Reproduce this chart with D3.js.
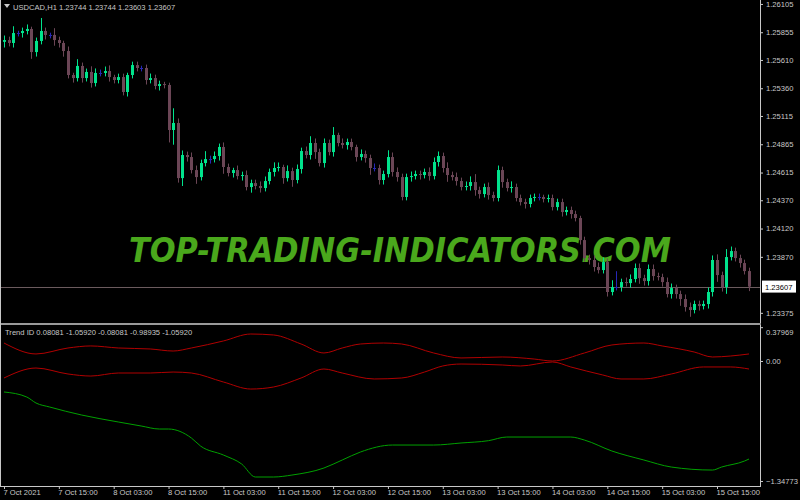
<!DOCTYPE html>
<html>
<head>
<meta charset="utf-8">
<script src="https://cdn.jsdelivr.net/npm/d3@7"></script>
<style>
  body { margin: 0; background: #000; }
  svg { display: block; }
  text { font-family: "Liberation Sans", Arial, sans-serif; font-size: 7.6px; }
</style>
</head>
<body>
<svg id="chart" width="800" height="500"></svg>
<script>
// USDCAD H1 closes (open of a bar = previous close)
const firstOpen = 1.25770
const closes = [
  1.25786,1.25760,1.25848,1.25848,1.25866,1.25884,1.25680,1.25778,1.25866,1.25831,
  1.25831,1.25786,1.25760,1.25689,1.25477,1.25450,1.25557,1.25450,1.25504,1.25406,
  1.25495,1.25495,1.25512,1.25459,1.25433,1.25459,1.25327,1.25477,1.25565,1.25539,
  1.25539,1.25433,1.25450,1.25380,1.25397,1.25389,1.24991,1.25053,1.24566,1.24770,
  1.24752,1.24637,1.24575,1.24699,1.24734,1.24734,1.24761,1.24841,1.24664,1.24611,
  1.24637,1.24584,1.24593,1.24487,1.24522,1.24496,1.24478,1.24540,1.24620,1.24655,
  1.24664,1.24566,1.24628,1.24549,1.24646,1.24805,1.24770,1.24876,1.24796,1.24699,
  1.24876,1.24796,1.24947,1.24876,1.24858,1.24885,1.24841,1.24752,1.24779,1.24743,
  1.24655,1.24655,1.24549,1.24602,1.24752,1.24620,1.24575,1.24399,1.24575,1.24584,
  1.24602,1.24593,1.24620,1.24584,1.24708,1.24761,1.24655,1.24593,1.24575,1.24540,
  1.24487,1.24496,1.24531,1.24460,1.24425,1.24487,1.24416,1.24390,1.24637,1.24531,
  1.24478,1.24487,1.24390,1.24354,1.24337,1.24390,1.24399,1.24399,1.24381,1.24390,
  1.24310,1.24354,1.24266,1.24284,1.24248,1.24213,1.24018,1.23859,1.23842,1.23780,
  1.23753,1.23824,1.23559,1.23603,1.23603,1.23647,1.23638,1.23674,1.23771,1.23682,
  1.23656,1.23762,1.23700,1.23691,1.23647,1.23541,1.23594,1.23541,1.23497,1.23426,
  1.23400,1.23453,1.23435,1.23453,1.23559,1.23842,1.23709,1.23603,1.23868,1.23921,
  1.23859,1.23815,1.23744,1.23607
]
// wick lengths above / below the body, in points (0.00001)
const wickUp = [
  40,30,60,20,30,40,20,30,115,30, 20,60,30,20,40,20,60,30,30,50,
  40,30,40,50,20,30,30,20,30,30, 20,30,40,30,30,20,20,130,40,40,
  30,40,40,30,70,30,40,30,40,30, 20,40,30,40,30,30,40,40,30,50,
  40,20,50,30,40,30,40,60,40,30, 40,30,70,20,40,30,30,20,40,30,
  30,40,30,30,60,40,40,30,30,40, 30,30,30,40,40,40,30,50,30,40,
  30,40,50,70,30,30,40,30,40,30, 30,50,30,30,30,30,30,30,20,30,
  30,30,30,30,30,30,20,30,30,40, 40,40,30,60,140,30,40,40,40,40,
  30,40,40,30,30,40,40,30,30,40, 40,30,30,30,40,40,50,30,70,40,
  30,30,30,30
]
const wickDn = [
  50,30,40,30,40,30,60,40,30,40, 30,50,40,50,30,40,30,40,30,40,
  30,30,30,40,30,30,30,40,30,30, 30,40,30,30,40,30,110,130,40,70,
  40,30,60,30,30,40,30,40,60,30, 40,30,40,30,50,30,40,30,30,40,
  30,50,30,60,30,40,30,40,60,30, 40,30,40,30,30,40,30,40,30,40,
  60,30,40,40,30,40,40,30,30,40, 30,40,30,40,30,40,40,60,30,40,
  30,30,40,50,40,30,40,30,30,50, 30,40,30,30,40,30,30,30,30,30,
  30,30,40,30,40,30,40,30,40,40, 30,30,40,30,30,40,30,40,30,50,
  40,40,40,30,40,30,40,40,60,40, 60,30,40,30,40,40,60,40,60,30,
  30,40,30,40
]
const timeTicks = [0,12,24,36,48,60,72,84,96,108,120,132,144,156]
const timeLabels = ["7 Oct 2021","7 Oct 15:00","8 Oct 03:00","8 Oct 15:00","11 Oct 03:00","11 Oct 15:00",
  "12 Oct 03:00","12 Oct 15:00","13 Oct 03:00","13 Oct 15:00","14 Oct 03:00","14 Oct 15:00","15 Oct 03:00","15 Oct 15:00"]
const priceTicks = [1.26105,1.25855,1.25610,1.25360,1.25115,1.24865,1.24615,1.24370,1.24120,1.23870,1.23375]
const lastPrice = 1.23607
const indTicks = [0.37969, 0.0, -1.34773]

// Trend ID lines, sampled at bar indices
const lineBars = [0,7,14,19,25,32,37,41,48,54,59,65,70,74,78,83,87,94,100,109,116,120,127,133,140,144,151,155,159,163]
const redUp = [0.202,0.079,0.146,0.169,0.146,0.135,0.112,0.146,0.225,0.303,0.292,0.191,0.090,0.146,0.191,
  0.202,0.191,0.090,0.034,0.045,0.022,0.0,0.090,0.180,0.202,0.169,0.101,0.045,0.056,0.079]
const redDnBars = [0,7,14,19,25,32,37,41,48,54,59,65,70,74,81,87,92,96,100,109,113,120,124,131,135,140,146,153,159,163]
const redDn = [-0.191,-0.079,-0.146,-0.169,-0.135,-0.135,-0.124,-0.135,-0.236,-0.315,-0.292,-0.191,-0.090,-0.135,-0.202,
  -0.191,-0.124,-0.056,-0.034,-0.045,-0.056,-0.011,-0.067,-0.157,-0.202,-0.202,-0.146,-0.067,-0.067,-0.090]
const greenBars = [0,5,7,10,17,25,30,34,36,41,43,48,52,55,59,63,70,74,78,85,94,100,106,110,124,127,133,140,146,155,157,162,163]
const green = [-0.348,-0.405,-0.472,-0.517,-0.607,-0.685,-0.730,-0.764,-0.764,-0.865,-0.955,-1.056,-1.157,-1.303,-1.303,
  -1.281,-1.202,-1.112,-1.022,-0.944,-0.944,-0.921,-0.895,-0.854,-0.854,-0.888,-1.011,-1.112,-1.191,-1.225,-1.191,-1.124,-1.101]

const svg = d3.select("#chart")
const axisCol = "#c8c8c8"
const bull = "#00e38c", bear = "#6b4656"

const x = d3.scaleLinear().domain([0, 163]).range([4, 749])
const yP = d3.scaleLinear().domain([1.23294, 1.26140]).range([322, 0])
const yI = d3.scaleLinear().domain([-1.404, 0.393]).range([486, 326])

const bars = closes.map((c, i) => {
  const o = i === 0 ? firstOpen : closes[i - 1]
  return {i: i, o: o, c: c, h: Math.max(o, c) + wickUp[i] / 1e5, l: Math.min(o, c) - wickDn[i] / 1e5}
})

// watermark
svg.append("text")
  .attr("x", 400).attr("y", 262)
  .attr("text-anchor", "middle")
  .attr("textLength", 542).attr("lengthAdjust", "spacingAndGlyphs")
  .style("font-family", "'DejaVu Sans', sans-serif")
  .style("font-weight", "bold").style("font-style", "italic")
  .style("font-size", "34px").style("fill", "#4aa81c")
  .text("TOP-TRADING-INDICATORS.COM")

// current price line
svg.append("line")
  .attr("x1", 0).attr("x2", 760)
  .attr("y1", Math.round(yP(lastPrice)) + 0.5).attr("y2", Math.round(yP(lastPrice)) + 0.5)
  .attr("stroke", "#6b5b5e")

const color = d => d.c > d.o ? bull : d.c < d.o ? bear : "#2727b8"

// candles
const cg = svg.append("g")
cg.selectAll("line.wick").data(bars).enter().append("line")
  .attr("x1", d => Math.round(x(d.i)) + 0.5).attr("x2", d => Math.round(x(d.i)) + 0.5)
  .attr("y1", d => yP(d.h)).attr("y2", d => yP(d.l))
  .attr("stroke", color)
cg.selectAll("rect").data(bars).enter().append("rect")
  .attr("x", d => Math.round(x(d.i)) - 1).attr("width", 3)
  .attr("y", d => yP(Math.max(d.o, d.c)))
  .attr("height", d => Math.max(1, yP(Math.min(d.o, d.c)) - yP(Math.max(d.o, d.c))))
  .attr("fill", color)

// indicator lines
const drawLine = (idx, vals, col) => {
  svg.append("path")
    .datum(idx.map((b, k) => [b, vals[k]]))
    .attr("fill", "none").attr("stroke", col).attr("stroke-width", 1)
    .attr("d", d3.line().x(d => x(d[0])).y(d => yI(d[1])).curve(d3.curveMonotoneX))
}
drawLine(lineBars, redUp, "#b00000")
drawLine(redDnBars, redDn, "#b00000")
drawLine(greenBars, green, "#00a000")

// frames
svg.append("line").attr("x1", 760.5).attr("x2", 760.5).attr("y1", 0).attr("y2", 486).attr("stroke", axisCol)
svg.append("rect").attr("x", 0).attr("y", 323).attr("width", 761).attr("height", 2).attr("fill", "#9a9a9a")
svg.append("line").attr("x1", 0).attr("x2", 761).attr("y1", 486.5).attr("y2", 486.5).attr("stroke", axisCol)
svg.append("line").attr("x1", 0.5).attr("x2", 0.5).attr("y1", 0).attr("y2", 486).attr("stroke", axisCol)

// price axis
const pa = svg.append("g").attr("transform", "translate(760,0)")
pa.call(d3.axisRight(yP).tickValues(priceTicks).tickFormat(d3.format(".5f")).tickSize(3).tickPadding(3))
pa.select(".domain").remove()
pa.selectAll("line").attr("stroke", axisCol)
pa.selectAll("text").attr("fill", axisCol).style("font-size", null).style("font-family", null).attr("font-size", null).attr("font-family", null)

const lp = svg.append("g").attr("transform", `translate(762,${yP(lastPrice)})`)
lp.append("rect").attr("x", 0).attr("y", -6).attr("width", 34).attr("height", 12).attr("fill", "#fff")
lp.append("text").attr("x", 3).attr("y", 3).attr("fill", "#000").text("1.23607")

// indicator axis
const ia = svg.append("g").attr("transform", "translate(760,0)")
ia.call(d3.axisRight(yI).tickValues(indTicks).tickFormat(d => d === 0 ? "0.00" : d3.format(".5f")(d)).tickSize(3).tickPadding(3))
ia.select(".domain").remove()
ia.selectAll("line").attr("stroke", axisCol)
ia.selectAll("text").attr("fill", axisCol).attr("font-size", null).attr("font-family", null)
ia.selectAll(".tick").filter(d => d === indTicks[0]).select("text").attr("dy", "0.9em")

// time axis
const ta = svg.append("g").attr("transform", "translate(0,486)")
ta.call(d3.axisBottom(x).tickValues(timeTicks).tickFormat((d, k) => timeLabels[k]).tickSize(3).tickPadding(1))
ta.select(".domain").remove()
ta.selectAll("line").attr("stroke", axisCol)
ta.selectAll("text").attr("fill", axisCol).attr("font-size", null).attr("font-family", null)
  .attr("text-anchor", "start").attr("dx", "-1")

// titles
svg.append("path").attr("d", "M4,4 L10,4 L7,8 Z").attr("fill", axisCol)
svg.append("text").attr("x", 13).attr("y", 10).attr("fill", axisCol)
  .text("USDCAD,H1  1.23744 1.23744 1.23603 1.23607")
svg.append("text").attr("x", 5).attr("y", 335).attr("fill", axisCol)
  .text("Trend ID 0.08081 -1.05920 -0.08081 -0.98935 -1.05920")
</script>
</body>
</html>
